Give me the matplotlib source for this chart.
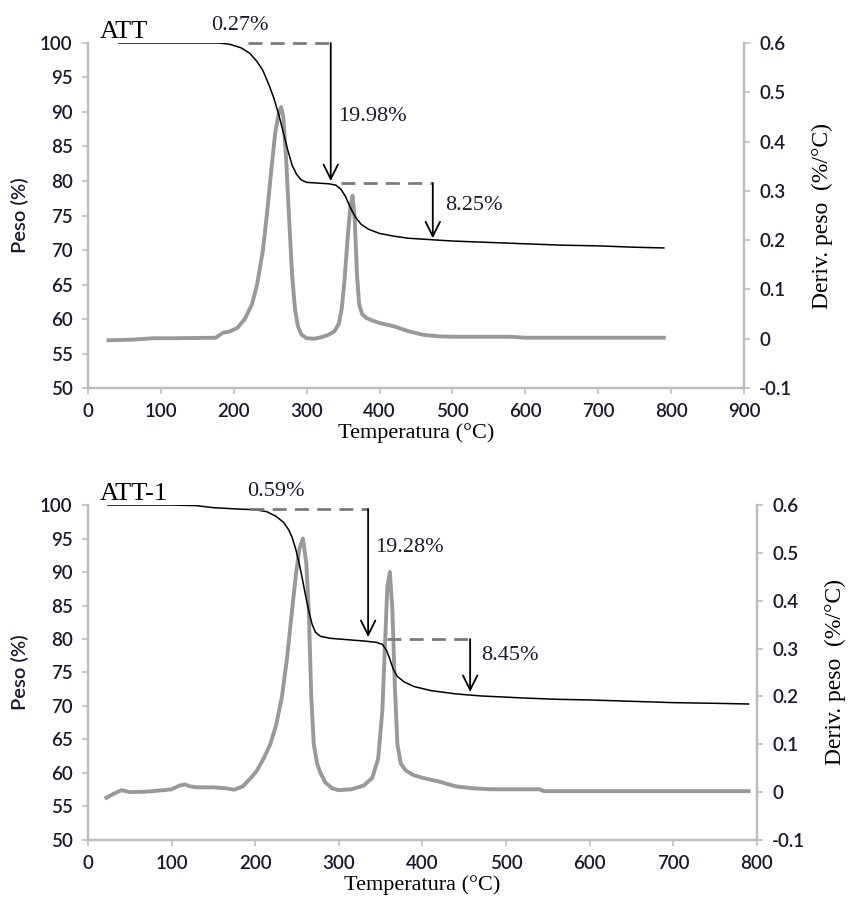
import matplotlib
matplotlib.use("Agg")
import matplotlib.pyplot as plt

# ---- ATT (top) ----
att_temp_w = [42, 100, 180, 195, 210, 222, 232, 240, 248, 255, 262, 268, 274, 280, 286, 292,
              300, 315, 330, 340, 347, 353, 358, 363, 368, 375, 385, 400, 420, 440, 470, 500,
              550, 600, 650, 700, 750, 790]
att_weight = [100, 100, 100, 99.8, 99.3, 98.5, 97.3, 96, 94, 92, 89.5, 87, 84.5, 82.3, 81, 80.2,
              79.8, 79.7, 79.6, 79.4, 78.8, 77.8, 76.6, 75.5, 74.6, 73.7, 73.0, 72.4, 72.0, 71.7,
              71.5, 71.3, 71.1, 70.9, 70.7, 70.6, 70.4, 70.3]
att_temp_d = [28, 60, 90, 120, 175, 185, 195, 205, 215, 225, 232, 240, 246, 252, 257, 262, 265,
              268, 272, 276, 280, 284, 288, 293, 300, 310, 320, 330, 338, 344, 348, 352, 356, 360,
              363, 366, 369, 372, 376, 382, 390, 400, 420, 440, 460, 480, 500, 580, 600, 790]
att_deriv = [-0.003, -0.002, 0.001, 0.001, 0.002, 0.012, 0.015, 0.022, 0.04, 0.07, 0.11, 0.18,
             0.26, 0.35, 0.42, 0.46, 0.47, 0.45, 0.36, 0.24, 0.13, 0.06, 0.025, 0.008, 0.001, 0.0,
             0.003, 0.008, 0.015, 0.03, 0.06, 0.12, 0.2, 0.27, 0.29, 0.24, 0.13, 0.07, 0.05, 0.042,
             0.037, 0.032, 0.025, 0.015, 0.008, 0.005, 0.004, 0.004, 0.002, 0.002]

# ---- ATT-1 (bottom) ----
att1_temp_w = [24, 60, 100, 130, 150, 180, 200, 214, 225, 234, 240, 244, 248, 252, 256, 260, 264,
               268, 272, 278, 290, 310, 330, 345, 352, 357, 361, 365, 370, 378, 390, 410, 440,
               470, 520, 560, 600, 650, 700, 750, 790]
att1_weight = [100, 100, 100, 99.9, 99.6, 99.4, 99.3, 99.0, 98.3, 97.4, 96.3, 95.2, 93.6, 91.6,
               89.2, 86.6, 84.2, 82.2, 81.0, 80.4, 80.1, 79.9, 79.7, 79.5, 79.2, 78.3, 77.0, 75.5,
               74.4, 73.6, 72.9, 72.3, 71.8, 71.5, 71.2, 71.0, 70.9, 70.7, 70.5, 70.4, 70.3]
att1_temp_d = [22, 30, 40, 50, 70, 90, 100, 110, 116, 122, 130, 150, 165, 175, 185, 195, 202, 210,
               218, 225, 232, 238, 244, 249, 253, 257, 261, 264, 267, 270, 274, 278, 284, 292, 300,
               315, 330, 340, 347, 352, 355, 358, 361, 364, 367, 370, 374, 380, 390, 400, 420, 440,
               460, 480, 540, 545, 600, 790]
att1_deriv = [-0.012, -0.004, 0.004, 0.0, 0.001, 0.004, 0.006, 0.014, 0.016, 0.012, 0.01, 0.01,
              0.008, 0.005, 0.012, 0.03, 0.045, 0.07, 0.1, 0.14, 0.2, 0.28, 0.38, 0.46, 0.51, 0.53,
              0.48, 0.38, 0.2, 0.1, 0.06, 0.04, 0.02, 0.008, 0.004, 0.006, 0.014, 0.03, 0.07, 0.17,
              0.3, 0.43, 0.46, 0.38, 0.22, 0.1, 0.06, 0.045, 0.035, 0.03, 0.022, 0.012, 0.008,
              0.006, 0.006, 0.002, 0.002, 0.002]

# mass-loss steps: (dashed start, arrow temp, top level, bottom level, label)
att_steps = [(220, 333, 100, 80.0, "19.98%"), (347, 473, 79.7, 71.7, "8.25%")]
att_step_labels = [(343, 89.3), (490, 76.4)]
att_first = ("0.27%", 209, 102.6)

att1_steps = [(194, 335, 99.4, 80.3, "19.28%"), (358, 457, 80.0, 72.1, "8.45%")]
att1_step_labels = [(343, 93.6), (470, 77.5)]
att1_first = ("0.59%", 225, 102.0)

SERIF = ["Liberation Serif", "DejaVu Serif"]
SANS = ["Lato", "Liberation Sans", "DejaVu Sans"]
SPINE = "#bdbdbd"
TXT = "#1a1a2e"


def draw_panel(fig, rect, tw, w, td, d, xmax, steps, step_labels, first, title):
    ax = fig.add_axes(rect)
    ax2 = ax.twinx()
    ax.set_zorder(ax2.get_zorder() + 1)
    ax.patch.set_visible(False)

    ax2.plot(td, d, color="#999999", lw=2.8, solid_joinstyle="round")
    ax.plot(tw, w, color="black", lw=1.1)

    ax.set_xlim(0, xmax)
    ax.set_ylim(50, 100)
    ax2.set_ylim(-0.1, 0.6)
    ax.set_xticks(range(0, xmax + 1, 100))
    ax.set_yticks(range(50, 101, 5))
    ax2.set_yticks([-0.1, 0, 0.1, 0.2, 0.3, 0.4, 0.5, 0.6])
    ax2.set_yticklabels(["-0.1", "0", "0.1", "0.2", "0.3", "0.4", "0.5", "0.6"])

    for a in (ax, ax2):
        a.spines["top"].set_visible(False)
        for s in ("left", "right", "bottom"):
            a.spines[s].set_color(SPINE)
            a.spines[s].set_linewidth(1.6)
        a.tick_params(colors=SPINE, labelcolor=TXT, length=4, width=1.2,
                      labelsize=13.5, pad=7)
        for lab in a.get_xticklabels() + a.get_yticklabels():
            lab.set_family(SANS)
            lab.set_weight("semibold")

    ax.set_xlabel("Temperatura (°C)", family=SERIF, fontsize=16, labelpad=2)
    ax.set_ylabel("Peso (%)", family=SANS, fontsize=14.5, labelpad=8, color=TXT,
                  weight="semibold")
    ax2.set_ylabel("Deriv. peso  (%/°C)", family=SERIF, fontsize=17, labelpad=14)

    for (x0, xa, ytop, ybot, lab), (lx, ly) in zip(steps, step_labels):
        ax.plot([x0, xa], [ytop, ytop], color="#7a7a7a", lw=2.0, ls=(0, (5, 3)),
                clip_on=False)
        ax.annotate("", xy=(xa, ybot), xytext=(xa, ytop),
                    arrowprops=dict(arrowstyle="->", color="black", lw=1.3,
                                    mutation_scale=26, shrinkA=0, shrinkB=0))
        ax.text(lx, ly, lab, family=SERIF, fontsize=16, color=TXT, va="center", ha="left")

    ax.text(first[1], first[2], first[0], family=SERIF, fontsize=16, color=TXT,
            va="center", ha="center", clip_on=False)
    ax.text(0.018, 1.0, title, transform=ax.transAxes, family=SERIF, fontsize=19,
            va="bottom", ha="left")
    return ax


fig = plt.figure(figsize=(8.56, 9.07), dpi=100)
draw_panel(fig, [0.1028, 0.5722, 0.7664, 0.3804], att_temp_w, att_weight, att_temp_d,
           att_deriv, 900, att_steps, att_step_labels, att_first, "ATT")
draw_panel(fig, [0.1028, 0.0739, 0.7815, 0.3693], att1_temp_w, att1_weight, att1_temp_d,
           att1_deriv, 800, att1_steps, att1_step_labels, att1_first, "ATT-1")

fig.savefig("out.png", dpi=100)
